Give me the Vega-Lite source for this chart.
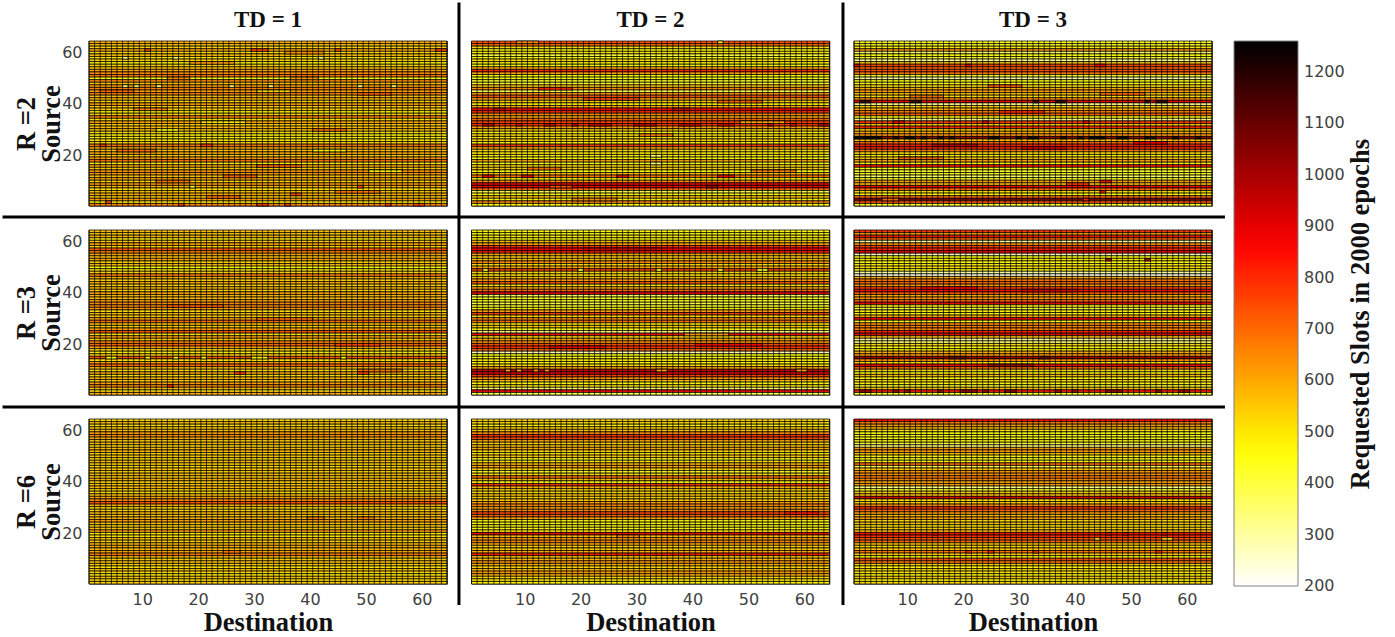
{"$schema":"https://vega.github.io/schema/vega-lite/v6.json","padding":0,"background":"white","bounds":"flush","columns":3,"spacing":{"row":24,"column":24.5},"resolve":{"scale":{"color":"shared"}},
"config":{"view":{"stroke":"#808080"},"axis":{"grid":false,"ticks":false,"domain":false,"labelFont":"DejaVu Sans","labelFontSize":16,"labelColor":"#404040","labelPadding":7,"titleFont":"Liberation Serif","titleFontWeight":"bold","titleFontSize":26.5,"titleColor":"#111111"},"title":{"font":"Liberation Serif","fontWeight":"bold","fontSize":23,"color":"#111111","offset":9}},
"datasets":{
"cols":[{"x":0.5},{"x":1.5},{"x":2.5},{"x":3.5},{"x":4.5},{"x":5.5},{"x":6.5},{"x":7.5},{"x":8.5},{"x":9.5},{"x":10.5},{"x":11.5},{"x":12.5},{"x":13.5},{"x":14.5},{"x":15.5},{"x":16.5},{"x":17.5},{"x":18.5},{"x":19.5},{"x":20.5},{"x":21.5},{"x":22.5},{"x":23.5},{"x":24.5},{"x":25.5},{"x":26.5},{"x":27.5},{"x":28.5},{"x":29.5},{"x":30.5},{"x":31.5},{"x":32.5},{"x":33.5},{"x":34.5},{"x":35.5},{"x":36.5},{"x":37.5},{"x":38.5},{"x":39.5},{"x":40.5},{"x":41.5},{"x":42.5},{"x":43.5},{"x":44.5},{"x":45.5},{"x":46.5},{"x":47.5},{"x":48.5},{"x":49.5},{"x":50.5},{"x":51.5},{"x":52.5},{"x":53.5},{"x":54.5},{"x":55.5},{"x":56.5},{"x":57.5},{"x":58.5},{"x":59.5},{"x":60.5},{"x":61.5},{"x":62.5},{"x":63.5},{"x":64.5}],
"seps":[{"x":66.64,"x2":66.64,"y":226.06,"y2":-7.65},{"x":135.29,"x2":135.29,"y":226.06,"y2":-7.65},{"x":-14.96,"x2":203.57,"y":142.85,"y2":142.85},{"x":-14.96,"x2":203.57,"y":69.15,"y2":69.15}],
"notes":[{"x":227.9,"y":105.2,"t":"Requested Slots in 2000 epochs"}],
"cells":[
{"p":1,"s":50,"a":14.5,"b":18.5,"v":640},{"p":1,"s":50,"a":36.5,"b":41.5,"v":620},{"p":1,"s":45,"a":2.5,"b":8.5,"v":700},{"p":1,"s":45,"a":30.5,"b":36.5,"v":520},{"p":1,"s":44,"a":48.5,"b":54.5,"v":720},{"p":1,"s":38,"a":8.5,"b":14.5,"v":650},{"p":1,"s":33,"a":20.5,"b":28.5,"v":500},{"p":1,"s":22,"a":5.5,"b":12.5,"v":690},{"p":1,"s":22,"a":40.5,"b":46.5,"v":480},{"p":1,"s":16,"a":30.5,"b":38.5,"v":700},{"p":1,"s":10,"a":12.5,"b":18.5,"v":680},{"p":1,"s":6,"a":44.5,"b":52.5,"v":680},{"p":1,"s":4,"a":21.5,"b":27.5,"v":680},{"p":1,"s":56,"a":18.5,"b":26.5,"v":620},{"p":1,"s":60,"a":35.5,"b":42.5,"v":640},
{"p":2,"s":42,"a":20.5,"b":30.5,"v":740},{"p":2,"s":41,"a":44.5,"b":52.5,"v":720},{"p":2,"s":28,"a":30.5,"b":36.5,"v":660},{"p":2,"s":17,"a":32.5,"b":34.5,"v":330},{"p":2,"s":15,"a":10.5,"b":16.5,"v":680},{"p":2,"s":14,"a":50.5,"b":58.5,"v":660},{"p":2,"s":3,"a":18.5,"b":26.5,"v":640},{"p":2,"s":46,"a":12.5,"b":18.5,"v":800},{"p":2,"s":33,"a":48.5,"b":56.5,"v":600},
{"p":3,"s":47,"a":24.5,"b":30.5,"v":720},{"p":3,"s":43,"a":10.5,"b":16.5,"v":680},{"p":3,"s":44,"a":44.5,"b":52.5,"v":700},{"p":3,"s":37,"a":26.5,"b":34.5,"v":800},{"p":3,"s":24,"a":14.5,"b":22.5,"v":960},{"p":3,"s":23,"a":30.5,"b":38.5,"v":920},{"p":3,"s":25,"a":50.5,"b":56.5,"v":880},{"p":3,"s":19,"a":8.5,"b":16.5,"v":700},{"p":3,"s":9,"a":38.5,"b":42.5,"v":780},{"p":3,"s":10,"a":44.5,"b":46.5,"v":860},
{"p":4,"s":30,"a":30.5,"b":40.5,"v":680},{"p":4,"s":35,"a":14.5,"b":24.5,"v":720},{"p":4,"s":20,"a":44.5,"b":52.5,"v":760},{"p":4,"s":10,"a":48.5,"b":56.5,"v":680},
{"p":5,"s":19,"a":14.5,"b":24.5,"v":880},{"p":5,"s":20,"a":40.5,"b":52.5,"v":860},{"p":5,"s":57,"a":20.5,"b":34.5,"v":920},
{"p":6,"s":42,"a":12.5,"b":22.5,"v":860},{"p":6,"s":41,"a":30.5,"b":40.5,"v":920},{"p":6,"s":12,"a":24.5,"b":32.5,"v":1020},
{"p":1,"s":61,"a":10.5,"b":11.5,"v":760},{"p":1,"s":61,"a":29.5,"b":32.5,"v":760},{"p":1,"s":61,"a":44.5,"b":45.5,"v":740},{"p":1,"s":61,"a":62.5,"b":64.5,"v":760},{"p":1,"s":58,"a":6.5,"b":7.5,"v":330},{"p":1,"s":58,"a":15.5,"b":16.5,"v":330},{"p":1,"s":58,"a":41.5,"b":42.5,"v":330},{"p":1,"s":47,"a":6.5,"b":7.5,"v":340},{"p":1,"s":47,"a":8.5,"b":9.5,"v":360},{"p":1,"s":47,"a":12.5,"b":13.5,"v":330},{"p":1,"s":47,"a":25.5,"b":26.5,"v":360},{"p":1,"s":47,"a":32.5,"b":33.5,"v":340},{"p":1,"s":47,"a":48.5,"b":49.5,"v":340},{"p":1,"s":47,"a":54.5,"b":55.5,"v":360},{"p":1,"s":2,"a":3.5,"b":4.5,"v":740},{"p":1,"s":1,"a":16.5,"b":17.5,"v":780},{"p":1,"s":1,"a":30.5,"b":32.5,"v":780},{"p":1,"s":1,"a":35.5,"b":36.5,"v":780},{"p":1,"s":1,"a":53.5,"b":54.5,"v":780},{"p":1,"s":1,"a":58.5,"b":60.5,"v":760},{"p":1,"s":24,"a":2.5,"b":3.5,"v":780},{"p":1,"s":24,"a":20.5,"b":22.5,"v":780},{"p":1,"s":5,"a":36.5,"b":38.5,"v":760},{"p":1,"s":8,"a":18.5,"b":19.5,"v":400},{"p":1,"s":8,"a":48.5,"b":49.5,"v":760},{"p":1,"s":30,"a":12.5,"b":16.5,"v":450},{"p":1,"s":30,"a":40.5,"b":46.5,"v":680},{"p":1,"s":12,"a":24.5,"b":30.5,"v":700},{"p":1,"s":14,"a":50.5,"b":56.5,"v":480},
{"p":2,"s":32,"a":2.5,"b":4.5,"v":960},{"p":2,"s":32,"a":8.5,"b":9.5,"v":920},{"p":2,"s":32,"a":13.5,"b":15.5,"v":950},{"p":2,"s":32,"a":18.5,"b":19.5,"v":980},{"p":2,"s":32,"a":21.5,"b":25.5,"v":940},{"p":2,"s":32,"a":29.5,"b":33.5,"v":960},{"p":2,"s":32,"a":37.5,"b":41.5,"v":950},{"p":2,"s":32,"a":44.5,"b":47.5,"v":930},{"p":2,"s":32,"a":53.5,"b":54.5,"v":960},{"p":2,"s":32,"a":57.5,"b":58.5,"v":920},{"p":2,"s":32,"a":62.5,"b":64.5,"v":980},{"p":2,"s":12,"a":2.5,"b":4.5,"v":860},{"p":2,"s":12,"a":9.5,"b":11.5,"v":860},{"p":2,"s":12,"a":26.5,"b":28.5,"v":840},{"p":2,"s":12,"a":44.5,"b":47.5,"v":850},{"p":2,"s":38,"a":4.5,"b":6.5,"v":950},{"p":2,"s":38,"a":36.5,"b":39.5,"v":950},{"p":2,"s":20,"a":32.5,"b":34.5,"v":360},{"p":2,"s":8,"a":14.5,"b":18.5,"v":740},{"p":2,"s":8,"a":42.5,"b":44.5,"v":1000},{"p":2,"s":64,"a":44.5,"b":45.5,"v":480},{"p":2,"s":64,"a":8.5,"b":12.5,"v":640},
{"p":3,"s":27,"a":0.5,"b":5.5,"v":1255},{"p":3,"s":27,"a":7.5,"b":8.5,"v":1240},{"p":3,"s":27,"a":9.5,"b":11.5,"v":1250},{"p":3,"s":27,"a":12.5,"b":13.5,"v":1240},{"p":3,"s":27,"a":15.5,"b":16.5,"v":1240},{"p":3,"s":27,"a":17.5,"b":18.5,"v":1250},{"p":3,"s":27,"a":24.5,"b":26.5,"v":1250},{"p":3,"s":27,"a":29.5,"b":30.5,"v":1240},{"p":3,"s":27,"a":31.5,"b":33.5,"v":1250},{"p":3,"s":27,"a":37.5,"b":38.5,"v":1240},{"p":3,"s":27,"a":40.5,"b":41.5,"v":1240},{"p":3,"s":27,"a":42.5,"b":45.5,"v":1255},{"p":3,"s":27,"a":47.5,"b":49.5,"v":1250},{"p":3,"s":27,"a":52.5,"b":54.5,"v":1250},{"p":3,"s":27,"a":57.5,"b":58.5,"v":1240},{"p":3,"s":27,"a":61.5,"b":62.5,"v":1240},{"p":3,"s":41,"a":1.5,"b":3.5,"v":1180},{"p":3,"s":41,"a":10.5,"b":12.5,"v":1180},{"p":3,"s":41,"a":32.5,"b":33.5,"v":1180},{"p":3,"s":41,"a":36.5,"b":38.5,"v":1180},{"p":3,"s":41,"a":52.5,"b":53.5,"v":1180},{"p":3,"s":41,"a":54.5,"b":56.5,"v":1180},{"p":3,"s":55,"a":0.5,"b":1.5,"v":900},{"p":3,"s":55,"a":20.5,"b":21.5,"v":900},{"p":3,"s":55,"a":43.5,"b":45.5,"v":880},{"p":3,"s":33,"a":7.5,"b":9.5,"v":880},{"p":3,"s":33,"a":23.5,"b":24.5,"v":880},{"p":3,"s":33,"a":41.5,"b":42.5,"v":880},{"p":3,"s":6,"a":44.5,"b":45.5,"v":850},{"p":3,"s":3,"a":5.5,"b":8.5,"v":700},{"p":3,"s":3,"a":41.5,"b":42.5,"v":820},
{"p":4,"s":15,"a":3.5,"b":5.5,"v":480},{"p":4,"s":15,"a":10.5,"b":11.5,"v":480},{"p":4,"s":15,"a":15.5,"b":16.5,"v":480},{"p":4,"s":15,"a":20.5,"b":21.5,"v":480},{"p":4,"s":15,"a":29.5,"b":32.5,"v":480},{"p":4,"s":15,"a":45.5,"b":46.5,"v":480},{"p":4,"s":4,"a":14.5,"b":15.5,"v":800},{"p":4,"s":9,"a":26.5,"b":28.5,"v":760},{"p":4,"s":9,"a":48.5,"b":50.5,"v":760},
{"p":5,"s":49,"a":2.5,"b":3.5,"v":430},{"p":5,"s":49,"a":19.5,"b":20.5,"v":430},{"p":5,"s":49,"a":33.5,"b":34.5,"v":430},{"p":5,"s":49,"a":44.5,"b":45.5,"v":430},{"p":5,"s":49,"a":51.5,"b":53.5,"v":430},{"p":5,"s":24,"a":38.5,"b":46.5,"v":620},{"p":5,"s":10,"a":6.5,"b":7.5,"v":620},{"p":5,"s":10,"a":8.5,"b":9.5,"v":600},{"p":5,"s":10,"a":11.5,"b":12.5,"v":640},{"p":5,"s":10,"a":13.5,"b":14.5,"v":640},{"p":5,"s":10,"a":33.5,"b":35.5,"v":620},{"p":5,"s":10,"a":58.5,"b":60.5,"v":620},
{"p":6,"s":2,"a":1.5,"b":3.5,"v":1010},{"p":6,"s":2,"a":7.5,"b":8.5,"v":1010},{"p":6,"s":2,"a":9.5,"b":10.5,"v":1010},{"p":6,"s":2,"a":15.5,"b":16.5,"v":1010},{"p":6,"s":2,"a":19.5,"b":22.5,"v":1010},{"p":6,"s":2,"a":23.5,"b":24.5,"v":1010},{"p":6,"s":2,"a":27.5,"b":29.5,"v":1040},{"p":6,"s":2,"a":36.5,"b":37.5,"v":1010},{"p":6,"s":2,"a":39.5,"b":40.5,"v":1010},{"p":6,"s":2,"a":45.5,"b":48.5,"v":1010},{"p":6,"s":2,"a":54.5,"b":55.5,"v":1010},{"p":6,"s":2,"a":58.5,"b":60.5,"v":1010},{"p":6,"s":15,"a":17.5,"b":20.5,"v":1100},{"p":6,"s":15,"a":33.5,"b":35.5,"v":1100},{"p":6,"s":53,"a":45.5,"b":46.5,"v":980},{"p":6,"s":53,"a":52.5,"b":53.5,"v":980},
{"p":7,"s":26,"a":39.5,"b":42.5,"v":660},{"p":7,"s":26,"a":48.5,"b":51.5,"v":660},{"p":7,"s":13,"a":24.5,"b":27.5,"v":680},
{"p":8,"s":19,"a":26.5,"b":30.5,"v":640},{"p":8,"s":28,"a":56.5,"b":62.5,"v":820},
{"p":9,"s":20,"a":14.5,"b":15.5,"v":900},{"p":9,"s":20,"a":45.5,"b":46.5,"v":900},{"p":9,"s":20,"a":48.5,"b":49.5,"v":900},{"p":9,"s":20,"a":55.5,"b":56.5,"v":900},{"p":9,"s":18,"a":43.5,"b":44.5,"v":520},{"p":9,"s":18,"a":55.5,"b":57.5,"v":520},{"p":9,"s":13,"a":20.5,"b":21.5,"v":800},{"p":9,"s":13,"a":24.5,"b":25.5,"v":800},{"p":9,"s":13,"a":32.5,"b":33.5,"v":800},{"p":9,"s":13,"a":54.5,"b":55.5,"v":800}
],
"rows":[
{"p":1,"s":64,"v":590},{"p":1,"s":63,"v":560},{"p":1,"s":62,"v":530},{"p":1,"s":61,"v":600},{"p":1,"s":60,"v":520},{"p":1,"s":59,"v":570},{"p":1,"s":58,"v":500},{"p":1,"s":57,"v":540},{"p":1,"s":56,"v":480},{"p":1,"s":55,"v":530},{"p":1,"s":54,"v":560},{"p":1,"s":53,"v":610},{"p":1,"s":52,"v":640},{"p":1,"s":51,"v":680},{"p":1,"s":50,"v":470},{"p":1,"s":49,"v":640},{"p":1,"s":48,"v":560},{"p":1,"s":47,"v":620},{"p":1,"s":46,"v":650},{"p":1,"s":45,"v":610},{"p":1,"s":44,"v":660},{"p":1,"s":43,"v":560},{"p":1,"s":42,"v":580},{"p":1,"s":41,"v":530},{"p":1,"s":40,"v":620},{"p":1,"s":39,"v":540},{"p":1,"s":38,"v":560},{"p":1,"s":37,"v":480},{"p":1,"s":36,"v":530},{"p":1,"s":35,"v":660},{"p":1,"s":34,"v":500},{"p":1,"s":33,"v":610},{"p":1,"s":32,"v":540},{"p":1,"s":31,"v":570},{"p":1,"s":30,"v":560},{"p":1,"s":29,"v":520},{"p":1,"s":28,"v":490},{"p":1,"s":27,"v":480},{"p":1,"s":26,"v":510},{"p":1,"s":25,"v":530},{"p":1,"s":24,"v":680},{"p":1,"s":23,"v":590},{"p":1,"s":22,"v":560},{"p":1,"s":21,"v":600},{"p":1,"s":20,"v":540},{"p":1,"s":19,"v":620},{"p":1,"s":18,"v":670},{"p":1,"s":17,"v":490},{"p":1,"s":16,"v":600},{"p":1,"s":15,"v":540},{"p":1,"s":14,"v":630},{"p":1,"s":13,"v":620},{"p":1,"s":12,"v":560},{"p":1,"s":11,"v":600},{"p":1,"s":10,"v":530},{"p":1,"s":9,"v":620},{"p":1,"s":8,"v":580},{"p":1,"s":7,"v":510},{"p":1,"s":6,"v":560},{"p":1,"s":5,"v":590},{"p":1,"s":4,"v":540},{"p":1,"s":3,"v":620},{"p":1,"s":2,"v":500},{"p":1,"s":1,"v":660},
{"p":2,"s":64,"v":740},{"p":2,"s":63,"v":700},{"p":2,"s":62,"v":520},{"p":2,"s":61,"v":470},{"p":2,"s":60,"v":500},{"p":2,"s":59,"v":400},{"p":2,"s":58,"v":470},{"p":2,"s":57,"v":520},{"p":2,"s":56,"v":480},{"p":2,"s":55,"v":470},{"p":2,"s":54,"v":590},{"p":2,"s":53,"v":800},{"p":2,"s":52,"v":620},{"p":2,"s":51,"v":470},{"p":2,"s":50,"v":450},{"p":2,"s":49,"v":430},{"p":2,"s":48,"v":420},{"p":2,"s":47,"v":560},{"p":2,"s":46,"v":640},{"p":2,"s":45,"v":380},{"p":2,"s":44,"v":620},{"p":2,"s":43,"v":740},{"p":2,"s":42,"v":600},{"p":2,"s":41,"v":540},{"p":2,"s":40,"v":480},{"p":2,"s":39,"v":600},{"p":2,"s":38,"v":860},{"p":2,"s":37,"v":800},{"p":2,"s":36,"v":640},{"p":2,"s":35,"v":600},{"p":2,"s":34,"v":700},{"p":2,"s":33,"v":760},{"p":2,"s":32,"v":780},{"p":2,"s":31,"v":620},{"p":2,"s":30,"v":560},{"p":2,"s":29,"v":470},{"p":2,"s":28,"v":520},{"p":2,"s":27,"v":500},{"p":2,"s":26,"v":540},{"p":2,"s":25,"v":480},{"p":2,"s":24,"v":780},{"p":2,"s":23,"v":600},{"p":2,"s":22,"v":520},{"p":2,"s":21,"v":500},{"p":2,"s":20,"v":480},{"p":2,"s":19,"v":470},{"p":2,"s":18,"v":600},{"p":2,"s":17,"v":450},{"p":2,"s":16,"v":520},{"p":2,"s":15,"v":540},{"p":2,"s":14,"v":470},{"p":2,"s":13,"v":560},{"p":2,"s":12,"v":680},{"p":2,"s":11,"v":470},{"p":2,"s":10,"v":640},{"p":2,"s":9,"v":890},{"p":2,"s":8,"v":870},{"p":2,"s":7,"v":700},{"p":2,"s":6,"v":380},{"p":2,"s":5,"v":470},{"p":2,"s":4,"v":560},{"p":2,"s":3,"v":480},{"p":2,"s":2,"v":650},{"p":2,"s":1,"v":470},
{"p":3,"s":64,"v":440},{"p":3,"s":63,"v":430},{"p":3,"s":62,"v":500},{"p":3,"s":61,"v":620},{"p":3,"s":60,"v":350},{"p":3,"s":59,"v":460},{"p":3,"s":58,"v":420},{"p":3,"s":57,"v":300},{"p":3,"s":56,"v":560},{"p":3,"s":55,"v":760},{"p":3,"s":54,"v":700},{"p":3,"s":53,"v":740},{"p":3,"s":52,"v":680},{"p":3,"s":51,"v":420},{"p":3,"s":50,"v":300},{"p":3,"s":49,"v":470},{"p":3,"s":48,"v":440},{"p":3,"s":47,"v":520},{"p":3,"s":46,"v":580},{"p":3,"s":45,"v":620},{"p":3,"s":44,"v":560},{"p":3,"s":43,"v":520},{"p":3,"s":42,"v":640},{"p":3,"s":41,"v":880},{"p":3,"s":40,"v":300},{"p":3,"s":39,"v":540},{"p":3,"s":38,"v":600},{"p":3,"s":37,"v":660},{"p":3,"s":36,"v":720},{"p":3,"s":35,"v":480},{"p":3,"s":34,"v":330},{"p":3,"s":33,"v":780},{"p":3,"s":32,"v":560},{"p":3,"s":31,"v":800},{"p":3,"s":30,"v":540},{"p":3,"s":29,"v":600},{"p":3,"s":28,"v":620},{"p":3,"s":27,"v":1020},{"p":3,"s":26,"v":560},{"p":3,"s":25,"v":700},{"p":3,"s":24,"v":820},{"p":3,"s":23,"v":800},{"p":3,"s":22,"v":680},{"p":3,"s":21,"v":520},{"p":3,"s":20,"v":480},{"p":3,"s":19,"v":560},{"p":3,"s":18,"v":600},{"p":3,"s":17,"v":480},{"p":3,"s":16,"v":820},{"p":3,"s":15,"v":460},{"p":3,"s":14,"v":420},{"p":3,"s":13,"v":440},{"p":3,"s":12,"v":360},{"p":3,"s":11,"v":430},{"p":3,"s":10,"v":620},{"p":3,"s":9,"v":560},{"p":3,"s":8,"v":860},{"p":3,"s":7,"v":700},{"p":3,"s":6,"v":520},{"p":3,"s":5,"v":460},{"p":3,"s":4,"v":700},{"p":3,"s":3,"v":1080},{"p":3,"s":2,"v":740},{"p":3,"s":1,"v":420},
{"p":4,"s":64,"v":570},{"p":4,"s":63,"v":540},{"p":4,"s":62,"v":580},{"p":4,"s":61,"v":500},{"p":4,"s":60,"v":550},{"p":4,"s":59,"v":600},{"p":4,"s":58,"v":530},{"p":4,"s":57,"v":720},{"p":4,"s":56,"v":660},{"p":4,"s":55,"v":600},{"p":4,"s":54,"v":560},{"p":4,"s":53,"v":600},{"p":4,"s":52,"v":540},{"p":4,"s":51,"v":570},{"p":4,"s":50,"v":470},{"p":4,"s":49,"v":500},{"p":4,"s":48,"v":530},{"p":4,"s":47,"v":660},{"p":4,"s":46,"v":580},{"p":4,"s":45,"v":540},{"p":4,"s":44,"v":590},{"p":4,"s":43,"v":530},{"p":4,"s":42,"v":580},{"p":4,"s":41,"v":540},{"p":4,"s":40,"v":600},{"p":4,"s":39,"v":570},{"p":4,"s":38,"v":560},{"p":4,"s":37,"v":610},{"p":4,"s":36,"v":640},{"p":4,"s":35,"v":660},{"p":4,"s":34,"v":620},{"p":4,"s":33,"v":520},{"p":4,"s":32,"v":570},{"p":4,"s":31,"v":540},{"p":4,"s":30,"v":600},{"p":4,"s":29,"v":700},{"p":4,"s":28,"v":560},{"p":4,"s":27,"v":540},{"p":4,"s":26,"v":610},{"p":4,"s":25,"v":730},{"p":4,"s":24,"v":500},{"p":4,"s":23,"v":620},{"p":4,"s":22,"v":540},{"p":4,"s":21,"v":660},{"p":4,"s":20,"v":700},{"p":4,"s":19,"v":620},{"p":4,"s":18,"v":520},{"p":4,"s":17,"v":490},{"p":4,"s":16,"v":540},{"p":4,"s":15,"v":730},{"p":4,"s":14,"v":500},{"p":4,"s":13,"v":620},{"p":4,"s":12,"v":690},{"p":4,"s":11,"v":560},{"p":4,"s":10,"v":520},{"p":4,"s":9,"v":600},{"p":4,"s":8,"v":510},{"p":4,"s":7,"v":580},{"p":4,"s":6,"v":540},{"p":4,"s":5,"v":610},{"p":4,"s":4,"v":650},{"p":4,"s":3,"v":560},{"p":4,"s":2,"v":520},{"p":4,"s":1,"v":590},
{"p":5,"s":64,"v":480},{"p":5,"s":63,"v":460},{"p":5,"s":62,"v":500},{"p":5,"s":61,"v":470},{"p":5,"s":60,"v":560},{"p":5,"s":59,"v":600},{"p":5,"s":58,"v":800},{"p":5,"s":57,"v":860},{"p":5,"s":56,"v":820},{"p":5,"s":55,"v":600},{"p":5,"s":54,"v":540},{"p":5,"s":53,"v":570},{"p":5,"s":52,"v":640},{"p":5,"s":51,"v":520},{"p":5,"s":50,"v":600},{"p":5,"s":49,"v":750},{"p":5,"s":48,"v":520},{"p":5,"s":47,"v":510},{"p":5,"s":46,"v":560},{"p":5,"s":45,"v":620},{"p":5,"s":44,"v":720},{"p":5,"s":43,"v":500},{"p":5,"s":42,"v":600},{"p":5,"s":41,"v":700},{"p":5,"s":40,"v":890},{"p":5,"s":39,"v":360},{"p":5,"s":38,"v":450},{"p":5,"s":37,"v":440},{"p":5,"s":36,"v":400},{"p":5,"s":35,"v":430},{"p":5,"s":34,"v":480},{"p":5,"s":33,"v":620},{"p":5,"s":32,"v":760},{"p":5,"s":31,"v":520},{"p":5,"s":30,"v":640},{"p":5,"s":29,"v":700},{"p":5,"s":28,"v":500},{"p":5,"s":27,"v":540},{"p":5,"s":26,"v":480},{"p":5,"s":25,"v":330},{"p":5,"s":24,"v":860},{"p":5,"s":23,"v":520},{"p":5,"s":22,"v":600},{"p":5,"s":21,"v":640},{"p":5,"s":20,"v":740},{"p":5,"s":19,"v":790},{"p":5,"s":18,"v":700},{"p":5,"s":17,"v":270},{"p":5,"s":16,"v":470},{"p":5,"s":15,"v":450},{"p":5,"s":14,"v":500},{"p":5,"s":13,"v":470},{"p":5,"s":12,"v":520},{"p":5,"s":11,"v":600},{"p":5,"s":10,"v":950},{"p":5,"s":9,"v":900},{"p":5,"s":8,"v":760},{"p":5,"s":7,"v":640},{"p":5,"s":6,"v":560},{"p":5,"s":5,"v":470},{"p":5,"s":4,"v":500},{"p":5,"s":3,"v":350},{"p":5,"s":2,"v":860},{"p":5,"s":1,"v":380},
{"p":6,"s":64,"v":780},{"p":6,"s":63,"v":620},{"p":6,"s":62,"v":830},{"p":6,"s":61,"v":700},{"p":6,"s":60,"v":300},{"p":6,"s":59,"v":640},{"p":6,"s":58,"v":760},{"p":6,"s":57,"v":800},{"p":6,"s":56,"v":870},{"p":6,"s":55,"v":260},{"p":6,"s":54,"v":470},{"p":6,"s":53,"v":500},{"p":6,"s":52,"v":450},{"p":6,"s":51,"v":490},{"p":6,"s":50,"v":520},{"p":6,"s":49,"v":460},{"p":6,"s":48,"v":300},{"p":6,"s":47,"v":230},{"p":6,"s":46,"v":590},{"p":6,"s":45,"v":680},{"p":6,"s":44,"v":700},{"p":6,"s":43,"v":620},{"p":6,"s":42,"v":760},{"p":6,"s":41,"v":840},{"p":6,"s":40,"v":720},{"p":6,"s":39,"v":590},{"p":6,"s":38,"v":620},{"p":6,"s":37,"v":700},{"p":6,"s":36,"v":880},{"p":6,"s":35,"v":480},{"p":6,"s":34,"v":400},{"p":6,"s":33,"v":500},{"p":6,"s":32,"v":470},{"p":6,"s":31,"v":600},{"p":6,"s":30,"v":850},{"p":6,"s":29,"v":440},{"p":6,"s":28,"v":640},{"p":6,"s":27,"v":660},{"p":6,"s":26,"v":650},{"p":6,"s":25,"v":800},{"p":6,"s":24,"v":900},{"p":6,"s":23,"v":560},{"p":6,"s":22,"v":300},{"p":6,"s":21,"v":350},{"p":6,"s":20,"v":520},{"p":6,"s":19,"v":470},{"p":6,"s":18,"v":500},{"p":6,"s":17,"v":590},{"p":6,"s":16,"v":620},{"p":6,"s":15,"v":1000},{"p":6,"s":14,"v":640},{"p":6,"s":13,"v":520},{"p":6,"s":12,"v":880},{"p":6,"s":11,"v":700},{"p":6,"s":10,"v":520},{"p":6,"s":9,"v":480},{"p":6,"s":8,"v":560},{"p":6,"s":7,"v":470},{"p":6,"s":6,"v":530},{"p":6,"s":5,"v":480},{"p":6,"s":4,"v":420},{"p":6,"s":3,"v":560},{"p":6,"s":2,"v":820},{"p":6,"s":1,"v":430},
{"p":7,"s":64,"v":530},{"p":7,"s":63,"v":560},{"p":7,"s":62,"v":520},{"p":7,"s":61,"v":540},{"p":7,"s":60,"v":570},{"p":7,"s":59,"v":610},{"p":7,"s":58,"v":630},{"p":7,"s":57,"v":600},{"p":7,"s":56,"v":540},{"p":7,"s":55,"v":570},{"p":7,"s":54,"v":530},{"p":7,"s":53,"v":560},{"p":7,"s":52,"v":580},{"p":7,"s":51,"v":530},{"p":7,"s":50,"v":550},{"p":7,"s":49,"v":520},{"p":7,"s":48,"v":570},{"p":7,"s":47,"v":540},{"p":7,"s":46,"v":520},{"p":7,"s":45,"v":560},{"p":7,"s":44,"v":530},{"p":7,"s":43,"v":570},{"p":7,"s":42,"v":540},{"p":7,"s":41,"v":580},{"p":7,"s":40,"v":530},{"p":7,"s":39,"v":550},{"p":7,"s":38,"v":570},{"p":7,"s":37,"v":540},{"p":7,"s":36,"v":520},{"p":7,"s":35,"v":560},{"p":7,"s":34,"v":600},{"p":7,"s":33,"v":640},{"p":7,"s":32,"v":730},{"p":7,"s":31,"v":590},{"p":7,"s":30,"v":510},{"p":7,"s":29,"v":540},{"p":7,"s":28,"v":570},{"p":7,"s":27,"v":550},{"p":7,"s":26,"v":580},{"p":7,"s":25,"v":610},{"p":7,"s":24,"v":560},{"p":7,"s":23,"v":530},{"p":7,"s":22,"v":550},{"p":7,"s":21,"v":620},{"p":7,"s":20,"v":490},{"p":7,"s":19,"v":510},{"p":7,"s":18,"v":550},{"p":7,"s":17,"v":530},{"p":7,"s":16,"v":570},{"p":7,"s":15,"v":590},{"p":7,"s":14,"v":560},{"p":7,"s":13,"v":600},{"p":7,"s":12,"v":680},{"p":7,"s":11,"v":570},{"p":7,"s":10,"v":530},{"p":7,"s":9,"v":560},{"p":7,"s":8,"v":540},{"p":7,"s":7,"v":510},{"p":7,"s":6,"v":550},{"p":7,"s":5,"v":520},{"p":7,"s":4,"v":490},{"p":7,"s":3,"v":560},{"p":7,"s":2,"v":520},{"p":7,"s":1,"v":540},
{"p":8,"s":64,"v":540},{"p":8,"s":63,"v":510},{"p":8,"s":62,"v":480},{"p":8,"s":61,"v":530},{"p":8,"s":60,"v":560},{"p":8,"s":59,"v":640},{"p":8,"s":58,"v":780},{"p":8,"s":57,"v":740},{"p":8,"s":56,"v":600},{"p":8,"s":55,"v":530},{"p":8,"s":54,"v":560},{"p":8,"s":53,"v":590},{"p":8,"s":52,"v":530},{"p":8,"s":51,"v":500},{"p":8,"s":50,"v":550},{"p":8,"s":49,"v":430},{"p":8,"s":48,"v":500},{"p":8,"s":47,"v":580},{"p":8,"s":46,"v":600},{"p":8,"s":45,"v":540},{"p":8,"s":44,"v":420},{"p":8,"s":43,"v":510},{"p":8,"s":42,"v":680},{"p":8,"s":41,"v":570},{"p":8,"s":40,"v":450},{"p":8,"s":39,"v":780},{"p":8,"s":38,"v":590},{"p":8,"s":37,"v":540},{"p":8,"s":36,"v":520},{"p":8,"s":35,"v":560},{"p":8,"s":34,"v":530},{"p":8,"s":33,"v":550},{"p":8,"s":32,"v":620},{"p":8,"s":31,"v":650},{"p":8,"s":30,"v":590},{"p":8,"s":29,"v":650},{"p":8,"s":28,"v":750},{"p":8,"s":27,"v":700},{"p":8,"s":26,"v":600},{"p":8,"s":25,"v":480},{"p":8,"s":24,"v":470},{"p":8,"s":23,"v":480},{"p":8,"s":22,"v":470},{"p":8,"s":21,"v":510},{"p":8,"s":20,"v":850},{"p":8,"s":19,"v":570},{"p":8,"s":18,"v":610},{"p":8,"s":17,"v":660},{"p":8,"s":16,"v":600},{"p":8,"s":15,"v":530},{"p":8,"s":14,"v":560},{"p":8,"s":13,"v":590},{"p":8,"s":12,"v":830},{"p":8,"s":11,"v":550},{"p":8,"s":10,"v":570},{"p":8,"s":9,"v":630},{"p":8,"s":8,"v":580},{"p":8,"s":7,"v":530},{"p":8,"s":6,"v":560},{"p":8,"s":5,"v":620},{"p":8,"s":4,"v":580},{"p":8,"s":3,"v":530},{"p":8,"s":2,"v":500},{"p":8,"s":1,"v":480},
{"p":9,"s":64,"v":850},{"p":9,"s":63,"v":660},{"p":9,"s":62,"v":620},{"p":9,"s":61,"v":580},{"p":9,"s":60,"v":500},{"p":9,"s":59,"v":470},{"p":9,"s":58,"v":440},{"p":9,"s":57,"v":470},{"p":9,"s":56,"v":480},{"p":9,"s":55,"v":420},{"p":9,"s":54,"v":330},{"p":9,"s":53,"v":620},{"p":9,"s":52,"v":620},{"p":9,"s":51,"v":560},{"p":9,"s":50,"v":480},{"p":9,"s":49,"v":440},{"p":9,"s":48,"v":470},{"p":9,"s":47,"v":700},{"p":9,"s":46,"v":380},{"p":9,"s":45,"v":560},{"p":9,"s":44,"v":620},{"p":9,"s":43,"v":640},{"p":9,"s":42,"v":670},{"p":9,"s":41,"v":650},{"p":9,"s":40,"v":600},{"p":9,"s":39,"v":620},{"p":9,"s":38,"v":330},{"p":9,"s":37,"v":420},{"p":9,"s":36,"v":540},{"p":9,"s":35,"v":560},{"p":9,"s":34,"v":900},{"p":9,"s":33,"v":520},{"p":9,"s":32,"v":540},{"p":9,"s":31,"v":640},{"p":9,"s":30,"v":790},{"p":9,"s":29,"v":700},{"p":9,"s":28,"v":620},{"p":9,"s":27,"v":560},{"p":9,"s":26,"v":620},{"p":9,"s":25,"v":520},{"p":9,"s":24,"v":560},{"p":9,"s":23,"v":500},{"p":9,"s":22,"v":530},{"p":9,"s":21,"v":580},{"p":9,"s":20,"v":830},{"p":9,"s":19,"v":790},{"p":9,"s":18,"v":720},{"p":9,"s":17,"v":700},{"p":9,"s":16,"v":560},{"p":9,"s":15,"v":520},{"p":9,"s":14,"v":560},{"p":9,"s":13,"v":680},{"p":9,"s":12,"v":540},{"p":9,"s":11,"v":480},{"p":9,"s":10,"v":740},{"p":9,"s":9,"v":680},{"p":9,"s":8,"v":540},{"p":9,"s":7,"v":480},{"p":9,"s":6,"v":530},{"p":9,"s":5,"v":500},{"p":9,"s":4,"v":470},{"p":9,"s":3,"v":560},{"p":9,"s":2,"v":470},{"p":9,"s":1,"v":520}
]},
"concat":[
{"width":358,"height":165,"title":"TD = 1","layer":[
{"data":{"name":"rows"},"transform":[{"filter":"datum.p==1"}],"mark":{"type":"rect","stroke":"#000","strokeWidth":0.75},"encoding":{"x":{"datum":0.5,"type":"quantitative","scale":{"domain":[0.5,64.5],"nice":false,"zero":false},"axis":null},"x2":{"datum":64.5},"y":{"field":"s","type":"ordinal","sort":"descending","axis":{"values":[20,40,60],"labelAngle":0,"title":["R =2","Source"],"titleLineHeight":25,"titlePadding":-4}},"color":{"field":"v","type":"quantitative","scale":{"domain":[200,1260],"interpolate":"rgb","range":["#ffffff","#ffff80","#ffff00","#ffaa00","#ff5500","#ff0000","#aa0000","#550000","#000000"]},"legend":{"title":null,"orient":"none","legendX":1145,"legendY":0,"values":[200,300,400,500,600,700,800,900,1000,1100,1200],"format":"d","gradientLength":545,"gradientThickness":64,"gradientStrokeColor":"#808080","gradientStrokeWidth":1,"labelFont":"DejaVu Sans","labelFontSize":16,"labelColor":"#404040","labelOverlap":false,"labelOffset":6,"encode":{"labels":{"update":{"baseline":{"value":"middle"}}}}}}}},
{"data":{"name":"cells"},"transform":[{"filter":"datum.p==1"}],"mark":{"type":"rect","stroke":"#000","strokeWidth":0.75},"encoding":{"x":{"field":"a","type":"quantitative","scale":{"domain":[0.5,64.5],"nice":false,"zero":false},"axis":null},"x2":{"field":"b"},"y":{"field":"s","type":"ordinal","sort":"descending"},"color":{"field":"v","type":"quantitative","scale":{"domain":[200,1260],"interpolate":"rgb","range":["#ffffff","#ffff80","#ffff00","#ffaa00","#ff5500","#ff0000","#aa0000","#550000","#000000"]}}}},
{"data":{"name":"cols"},"mark":{"type":"rule","color":"#000","strokeWidth":0.75},"encoding":{"x":{"field":"x","type":"quantitative","scale":{"domain":[0.5,64.5],"nice":false,"zero":false},"axis":null}}}
]},
{"width":358,"height":165,"title":"TD = 2","layer":[
{"data":{"name":"rows"},"transform":[{"filter":"datum.p==2"}],"mark":{"type":"rect","stroke":"#000","strokeWidth":0.75},"encoding":{"x":{"datum":0.5,"type":"quantitative","scale":{"domain":[0.5,64.5],"nice":false,"zero":false},"axis":null},"x2":{"datum":64.5},"y":{"field":"s","type":"ordinal","sort":"descending","axis":null},"color":{"field":"v","type":"quantitative","scale":{"domain":[200,1260],"interpolate":"rgb","range":["#ffffff","#ffff80","#ffff00","#ffaa00","#ff5500","#ff0000","#aa0000","#550000","#000000"]}}}},
{"data":{"name":"cells"},"transform":[{"filter":"datum.p==2"}],"mark":{"type":"rect","stroke":"#000","strokeWidth":0.75},"encoding":{"x":{"field":"a","type":"quantitative","scale":{"domain":[0.5,64.5],"nice":false,"zero":false},"axis":null},"x2":{"field":"b"},"y":{"field":"s","type":"ordinal","sort":"descending","axis":null},"color":{"field":"v","type":"quantitative","scale":{"domain":[200,1260],"interpolate":"rgb","range":["#ffffff","#ffff80","#ffff00","#ffaa00","#ff5500","#ff0000","#aa0000","#550000","#000000"]}}}},
{"data":{"name":"cols"},"mark":{"type":"rule","color":"#000","strokeWidth":0.75},"encoding":{"x":{"field":"x","type":"quantitative","scale":{"domain":[0.5,64.5],"nice":false,"zero":false},"axis":null}}}
]},
{"width":358,"height":165,"title":"TD = 3","layer":[
{"data":{"name":"rows"},"transform":[{"filter":"datum.p==3"}],"mark":{"type":"rect","stroke":"#000","strokeWidth":0.75},"encoding":{"x":{"datum":0.5,"type":"quantitative","scale":{"domain":[0.5,64.5],"nice":false,"zero":false},"axis":null},"x2":{"datum":64.5},"y":{"field":"s","type":"ordinal","sort":"descending","axis":null},"color":{"field":"v","type":"quantitative","scale":{"domain":[200,1260],"interpolate":"rgb","range":["#ffffff","#ffff80","#ffff00","#ffaa00","#ff5500","#ff0000","#aa0000","#550000","#000000"]}}}},
{"data":{"name":"cells"},"transform":[{"filter":"datum.p==3"}],"mark":{"type":"rect","stroke":"#000","strokeWidth":0.75},"encoding":{"x":{"field":"a","type":"quantitative","scale":{"domain":[0.5,64.5],"nice":false,"zero":false},"axis":null},"x2":{"field":"b"},"y":{"field":"s","type":"ordinal","sort":"descending","axis":null},"color":{"field":"v","type":"quantitative","scale":{"domain":[200,1260],"interpolate":"rgb","range":["#ffffff","#ffff80","#ffff00","#ffaa00","#ff5500","#ff0000","#aa0000","#550000","#000000"]}}}},
{"data":{"name":"cols"},"mark":{"type":"rule","color":"#000","strokeWidth":0.75},"encoding":{"x":{"field":"x","type":"quantitative","scale":{"domain":[0.5,64.5],"nice":false,"zero":false},"axis":null}}}
]},
{"width":358,"height":165,"layer":[
{"data":{"name":"rows"},"transform":[{"filter":"datum.p==4"}],"mark":{"type":"rect","stroke":"#000","strokeWidth":0.75},"encoding":{"x":{"datum":0.5,"type":"quantitative","scale":{"domain":[0.5,64.5],"nice":false,"zero":false},"axis":null},"x2":{"datum":64.5},"y":{"field":"s","type":"ordinal","sort":"descending","axis":{"values":[20,40,60],"labelAngle":0,"title":["R =3","Source"],"titleLineHeight":25,"titlePadding":-4}},"color":{"field":"v","type":"quantitative","scale":{"domain":[200,1260],"interpolate":"rgb","range":["#ffffff","#ffff80","#ffff00","#ffaa00","#ff5500","#ff0000","#aa0000","#550000","#000000"]}}}},
{"data":{"name":"cells"},"transform":[{"filter":"datum.p==4"}],"mark":{"type":"rect","stroke":"#000","strokeWidth":0.75},"encoding":{"x":{"field":"a","type":"quantitative","scale":{"domain":[0.5,64.5],"nice":false,"zero":false},"axis":null},"x2":{"field":"b"},"y":{"field":"s","type":"ordinal","sort":"descending"},"color":{"field":"v","type":"quantitative","scale":{"domain":[200,1260],"interpolate":"rgb","range":["#ffffff","#ffff80","#ffff00","#ffaa00","#ff5500","#ff0000","#aa0000","#550000","#000000"]}}}},
{"data":{"name":"cols"},"mark":{"type":"rule","color":"#000","strokeWidth":0.75},"encoding":{"x":{"field":"x","type":"quantitative","scale":{"domain":[0.5,64.5],"nice":false,"zero":false},"axis":null}}}
]},
{"width":358,"height":165,"layer":[
{"data":{"name":"rows"},"transform":[{"filter":"datum.p==5"}],"mark":{"type":"rect","stroke":"#000","strokeWidth":0.75},"encoding":{"x":{"datum":0.5,"type":"quantitative","scale":{"domain":[0.5,64.5],"nice":false,"zero":false},"axis":null},"x2":{"datum":64.5},"y":{"field":"s","type":"ordinal","sort":"descending","axis":null},"color":{"field":"v","type":"quantitative","scale":{"domain":[200,1260],"interpolate":"rgb","range":["#ffffff","#ffff80","#ffff00","#ffaa00","#ff5500","#ff0000","#aa0000","#550000","#000000"]}}}},
{"data":{"name":"cells"},"transform":[{"filter":"datum.p==5"}],"mark":{"type":"rect","stroke":"#000","strokeWidth":0.75},"encoding":{"x":{"field":"a","type":"quantitative","scale":{"domain":[0.5,64.5],"nice":false,"zero":false},"axis":null},"x2":{"field":"b"},"y":{"field":"s","type":"ordinal","sort":"descending","axis":null},"color":{"field":"v","type":"quantitative","scale":{"domain":[200,1260],"interpolate":"rgb","range":["#ffffff","#ffff80","#ffff00","#ffaa00","#ff5500","#ff0000","#aa0000","#550000","#000000"]}}}},
{"data":{"name":"cols"},"mark":{"type":"rule","color":"#000","strokeWidth":0.75},"encoding":{"x":{"field":"x","type":"quantitative","scale":{"domain":[0.5,64.5],"nice":false,"zero":false},"axis":null}}}
]},
{"width":358,"height":165,"layer":[
{"data":{"name":"rows"},"transform":[{"filter":"datum.p==6"}],"mark":{"type":"rect","stroke":"#000","strokeWidth":0.75},"encoding":{"x":{"datum":0.5,"type":"quantitative","scale":{"domain":[0.5,64.5],"nice":false,"zero":false},"axis":null},"x2":{"datum":64.5},"y":{"field":"s","type":"ordinal","sort":"descending","axis":null},"color":{"field":"v","type":"quantitative","scale":{"domain":[200,1260],"interpolate":"rgb","range":["#ffffff","#ffff80","#ffff00","#ffaa00","#ff5500","#ff0000","#aa0000","#550000","#000000"]}}}},
{"data":{"name":"cells"},"transform":[{"filter":"datum.p==6"}],"mark":{"type":"rect","stroke":"#000","strokeWidth":0.75},"encoding":{"x":{"field":"a","type":"quantitative","scale":{"domain":[0.5,64.5],"nice":false,"zero":false},"axis":null},"x2":{"field":"b"},"y":{"field":"s","type":"ordinal","sort":"descending","axis":null},"color":{"field":"v","type":"quantitative","scale":{"domain":[200,1260],"interpolate":"rgb","range":["#ffffff","#ffff80","#ffff00","#ffaa00","#ff5500","#ff0000","#aa0000","#550000","#000000"]}}}},
{"data":{"name":"cols"},"mark":{"type":"rule","color":"#000","strokeWidth":0.75},"encoding":{"x":{"field":"x","type":"quantitative","scale":{"domain":[0.5,64.5],"nice":false,"zero":false},"axis":null}}}
]},
{"width":358,"height":165,"resolve":{"scale":{"y":"independent"}},"layer":[
{"layer":[
{"data":{"name":"rows"},"transform":[{"filter":"datum.p==7"}],"mark":{"type":"rect","stroke":"#000","strokeWidth":0.75},"encoding":{"x":{"datum":0.5,"type":"quantitative","scale":{"domain":[0.5,64.5],"nice":false,"zero":false},"axis":{"values":[10,20,30,40,50,60],"title":"Destination","titlePadding":2}},"x2":{"datum":64.5},"y":{"field":"s","type":"ordinal","sort":"descending","axis":{"values":[20,40,60],"labelAngle":0,"title":["R =6","Source"],"titleLineHeight":25,"titlePadding":-4}},"color":{"field":"v","type":"quantitative","scale":{"domain":[200,1260],"interpolate":"rgb","range":["#ffffff","#ffff80","#ffff00","#ffaa00","#ff5500","#ff0000","#aa0000","#550000","#000000"]}}}},
{"data":{"name":"cells"},"transform":[{"filter":"datum.p==7"}],"mark":{"type":"rect","stroke":"#000","strokeWidth":0.75},"encoding":{"x":{"field":"a","type":"quantitative","scale":{"domain":[0.5,64.5],"nice":false,"zero":false}},"x2":{"field":"b"},"y":{"field":"s","type":"ordinal","sort":"descending"},"color":{"field":"v","type":"quantitative","scale":{"domain":[200,1260],"interpolate":"rgb","range":["#ffffff","#ffff80","#ffff00","#ffaa00","#ff5500","#ff0000","#aa0000","#550000","#000000"]}}}},
{"data":{"name":"cols"},"mark":{"type":"rule","color":"#000","strokeWidth":0.75},"encoding":{"x":{"field":"x","type":"quantitative","scale":{"domain":[0.5,64.5],"nice":false,"zero":false}}}}
]},
{"data":{"name":"seps"},"mark":{"type":"rule","color":"#000","strokeWidth":3,"clip":false},"encoding":{"x":{"field":"x","type":"quantitative","scale":{"domain":[0.5,64.5],"nice":false,"zero":false}},"x2":{"field":"x2"},"y":{"field":"y","type":"quantitative","axis":null,"scale":{"domain":[0.5,64.5],"nice":false,"zero":false}},"y2":{"field":"y2"}}},
{"data":{"name":"notes"},"mark":{"type":"text","angle":270,"align":"center","baseline":"middle","font":"Liberation Serif","fontWeight":"bold","fontSize":26.5,"color":"#111111"},"encoding":{"x":{"field":"x","type":"quantitative","scale":{"domain":[0.5,64.5],"nice":false,"zero":false}},"y":{"field":"y","type":"quantitative","axis":null,"scale":{"domain":[0.5,64.5],"nice":false,"zero":false}},"text":{"field":"t"}}}
]},
{"width":358,"height":165,"layer":[
{"data":{"name":"rows"},"transform":[{"filter":"datum.p==8"}],"mark":{"type":"rect","stroke":"#000","strokeWidth":0.75},"encoding":{"x":{"datum":0.5,"type":"quantitative","scale":{"domain":[0.5,64.5],"nice":false,"zero":false},"axis":{"values":[10,20,30,40,50,60],"title":"Destination","titlePadding":2}},"x2":{"datum":64.5},"y":{"field":"s","type":"ordinal","sort":"descending","axis":null},"color":{"field":"v","type":"quantitative","scale":{"domain":[200,1260],"interpolate":"rgb","range":["#ffffff","#ffff80","#ffff00","#ffaa00","#ff5500","#ff0000","#aa0000","#550000","#000000"]}}}},
{"data":{"name":"cells"},"transform":[{"filter":"datum.p==8"}],"mark":{"type":"rect","stroke":"#000","strokeWidth":0.75},"encoding":{"x":{"field":"a","type":"quantitative","scale":{"domain":[0.5,64.5],"nice":false,"zero":false}},"x2":{"field":"b"},"y":{"field":"s","type":"ordinal","sort":"descending","axis":null},"color":{"field":"v","type":"quantitative","scale":{"domain":[200,1260],"interpolate":"rgb","range":["#ffffff","#ffff80","#ffff00","#ffaa00","#ff5500","#ff0000","#aa0000","#550000","#000000"]}}}},
{"data":{"name":"cols"},"mark":{"type":"rule","color":"#000","strokeWidth":0.75},"encoding":{"x":{"field":"x","type":"quantitative","scale":{"domain":[0.5,64.5],"nice":false,"zero":false}}}}
]},
{"width":358,"height":165,"layer":[
{"data":{"name":"rows"},"transform":[{"filter":"datum.p==9"}],"mark":{"type":"rect","stroke":"#000","strokeWidth":0.75},"encoding":{"x":{"datum":0.5,"type":"quantitative","scale":{"domain":[0.5,64.5],"nice":false,"zero":false},"axis":{"values":[10,20,30,40,50,60],"title":"Destination","titlePadding":2}},"x2":{"datum":64.5},"y":{"field":"s","type":"ordinal","sort":"descending","axis":null},"color":{"field":"v","type":"quantitative","scale":{"domain":[200,1260],"interpolate":"rgb","range":["#ffffff","#ffff80","#ffff00","#ffaa00","#ff5500","#ff0000","#aa0000","#550000","#000000"]}}}},
{"data":{"name":"cells"},"transform":[{"filter":"datum.p==9"}],"mark":{"type":"rect","stroke":"#000","strokeWidth":0.75},"encoding":{"x":{"field":"a","type":"quantitative","scale":{"domain":[0.5,64.5],"nice":false,"zero":false}},"x2":{"field":"b"},"y":{"field":"s","type":"ordinal","sort":"descending","axis":null},"color":{"field":"v","type":"quantitative","scale":{"domain":[200,1260],"interpolate":"rgb","range":["#ffffff","#ffff80","#ffff00","#ffaa00","#ff5500","#ff0000","#aa0000","#550000","#000000"]}}}},
{"data":{"name":"cols"},"mark":{"type":"rule","color":"#000","strokeWidth":0.75},"encoding":{"x":{"field":"x","type":"quantitative","scale":{"domain":[0.5,64.5],"nice":false,"zero":false}}}}
]}
]}
